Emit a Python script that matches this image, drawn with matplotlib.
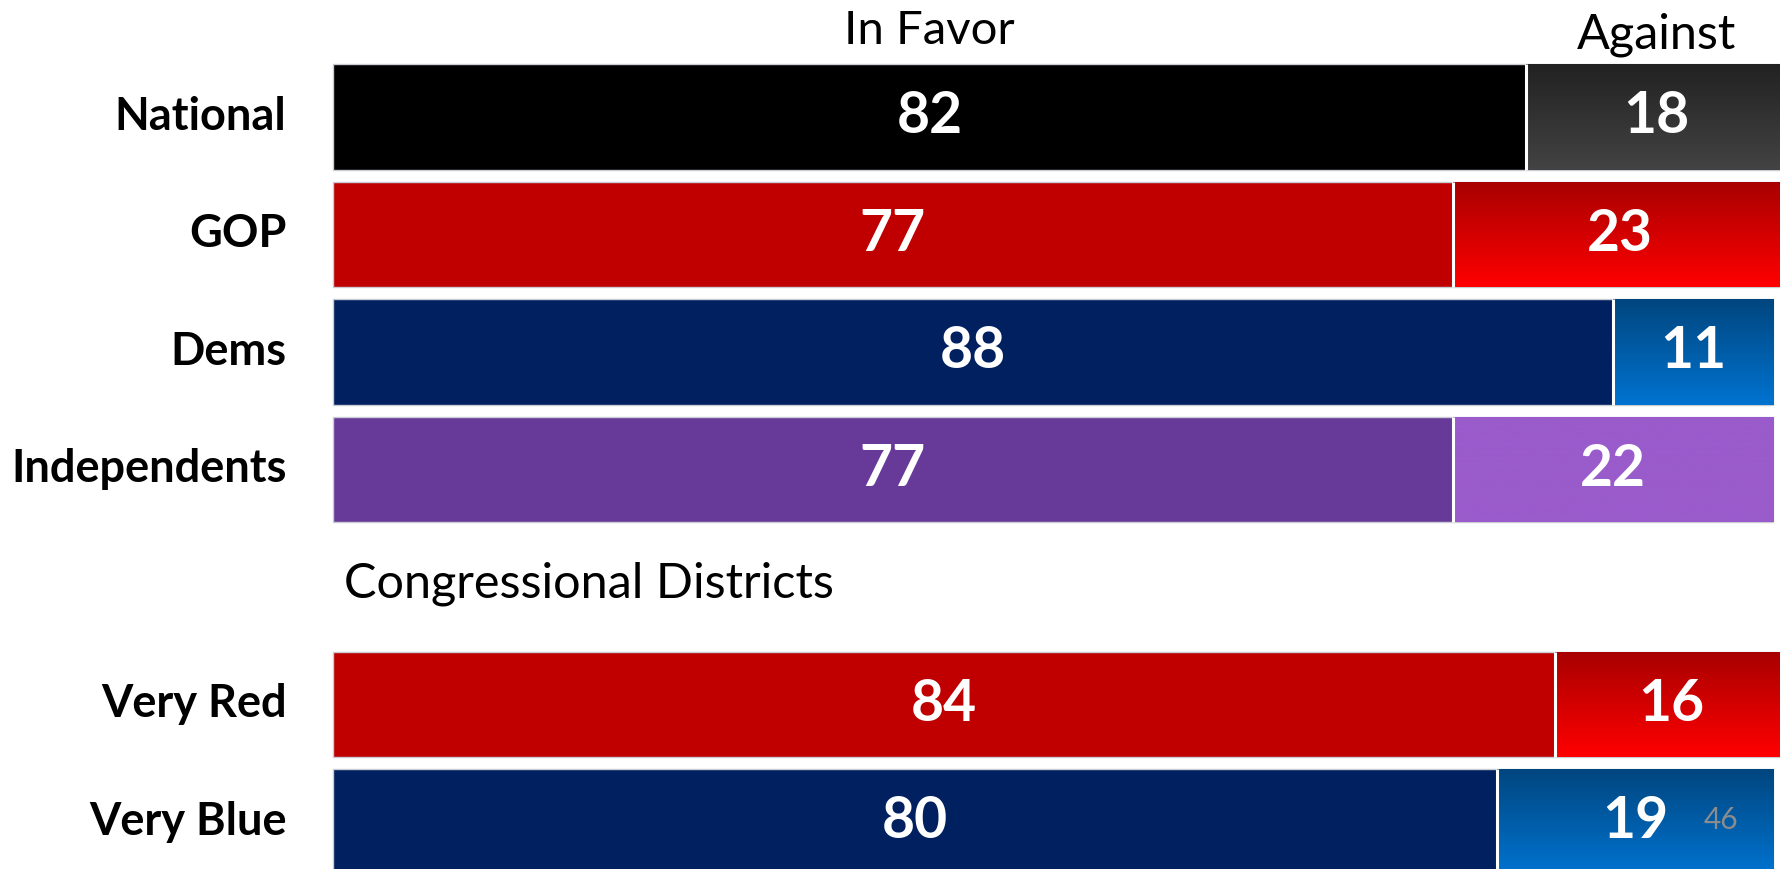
import numpy as np
import matplotlib
matplotlib.use("Agg")
import matplotlib.pyplot as plt
from matplotlib.colors import to_rgb

# Survey results: share in favor / against by group
groups = ["National", "GOP", "Dems", "Independents", "Very Red", "Very Blue"]
in_favor = [82, 77, 88, 77, 84, 80]
against = [18, 23, 11, 22, 16, 19]
slots = [0, 1, 2, 3, 5, 6]

favor_colors = ["#000000", "#c00000", "#002060", "#673a99", "#c00000", "#002060"]
against_top = ["#222222", "#a80000", "#00467f", "#9a5bcb", "#a80000", "#00467f"]
against_bottom = ["#434343", "#ff0000", "#0073d0", "#9a5bcb", "#ff0000", "#0073d0"]

FONT = ["Lato", "DejaVu Sans"]
plt.rcParams["font.family"] = FONT

fig = plt.figure(figsize=(17.81, 8.69), dpi=100)
ax = fig.add_axes([0, 0, 1, 1])
ax.axis("off")

bar_h = 0.894
edge = "#c9ccd3"

for name, fav, ag, y, fc, top, bot in zip(groups, in_favor, against, slots,
                                          favor_colors, against_top, against_bottom):
    ax.barh(y, fav, height=bar_h, left=0, color=fc, edgecolor=edge, linewidth=1.0)
    ab = ax.barh(y, ag, height=bar_h, left=fav, color="none", edgecolor=edge, linewidth=1.0)[0]
    # vertical gradient fill for the "against" segment
    t = np.linspace(0, 1, 64)[:, None, None]
    grad = (1 - t) * np.array(to_rgb(top)) + t * np.array(to_rgb(bot))
    im = ax.imshow(grad, extent=(fav, fav + ag, y + bar_h / 2, y - bar_h / 2),
                   aspect="auto", origin="upper", interpolation="bilinear", zorder=1.5)
    im.set_clip_path(ab)
    # white divider between segments
    ax.plot([fav, fav], [y - bar_h / 2, y + bar_h / 2], color="white", lw=2.2, zorder=3,
            solid_capstyle="butt")

    ax.text(fav / 2, y, f"{fav}", ha="center", va="center", color="white",
            fontsize=41, fontweight="bold", zorder=4)
    ax.text(fav + ag / 2, y, f"{ag}", ha="center", va="center", color="white",
            fontsize=41, fontweight="bold", zorder=4)
    ax.text(-3.2, y, name, ha="right", va="center", color="black",
            fontsize=32.5, fontweight="bold")

ax.text(41, -0.73, "In Favor", ha="center", va="center", fontsize=34, color="black")
ax.text(91, -0.70, "Against", ha="center", va="center", fontsize=35, color="black")
ax.text(0.75, 3.97, "Congressional Districts", ha="left", va="center", fontsize=35,
        color="black")
ax.text(95.4, 5.98, "46", ha="center", va="center", fontsize=21.5, color="#8c8c8c", zorder=5)

ax.set_xlim(-22.89, 99.55)
ax.set_ylim(6.4, -0.9957)

fig.savefig("out.png", dpi=100, facecolor="white")
